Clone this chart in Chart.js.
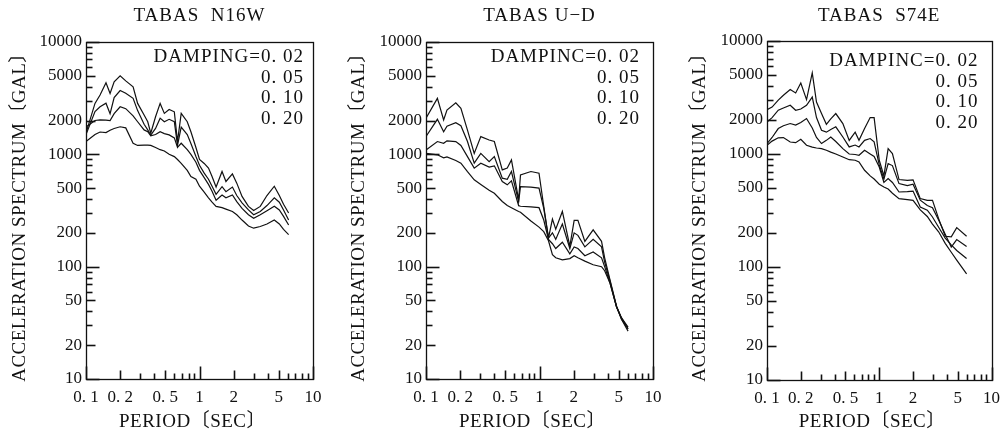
<!DOCTYPE html>
<html>
<head>
<meta charset="utf-8">
<script src="https://cdn.jsdelivr.net/npm/chart.js@4.4.1/dist/chart.umd.min.js"></script>
<style>
  html, body { margin: 0; padding: 0; background: #fff; }
  #wrap { position: relative; width: 1008px; height: 435px; overflow: hidden; }
  #wrap canvas { position: absolute; top: 0; }
</style>
</head>
<body>
<div id="wrap">
  <canvas id="c1" width="336" height="435" style="left:0"></canvas>
  <canvas id="c2" width="336" height="435" style="left:336px"></canvas>
  <canvas id="c3" width="336" height="435" style="left:672px"></canvas>
</div>
<script>
// axis ticks
const xTickValues = [0.1, 0.2, 0.5, 1, 2, 5, 10];
const xTickLabels = ['0. 1', '0. 2', '0. 5', '1', '2', '5', '10'];
const yTickValues = [10, 20, 50, 100, 200, 500, 1000, 2000, 5000, 10000];
const yTickLabels = ['10', '20', '50', '100', '200', '500', '1000', '2000', '5000', '10000'];
const dampingLabels = ['0. 02', '0. 05', '0. 10', '0. 20'];

// TABAS N16W
const periodN16W = [0.1, 0.12, 0.133, 0.15, 0.163, 0.177, 0.2, 0.224, 0.26, 0.285,
  0.325, 0.35, 0.372, 0.41, 0.45, 0.49, 0.54, 0.6, 0.64, 0.69,
  0.78, 0.84, 0.93, 1.0, 1.1, 1.2, 1.29, 1.4, 1.58, 1.71,
  1.95, 2.13, 2.37, 2.7, 3.0, 3.43, 3.93, 4.56, 5.05, 5.5, 6.1];
const n16wD002 = [1550, 2840, 3370, 4330, 3480, 4420, 5000, 4510, 3990, 2840,
  2240, 1950, 1540, 2160, 2840, 2315, 2510, 2390, 1300, 2315,
  1950, 1590, 1150, 900, 830, 754, 634, 511, 703, 573,
  670, 554, 422, 344, 316, 344, 430, 520, 430, 360, 300];
const n16wD005 = [1500, 2400, 2650, 2850, 2300, 3200, 3700, 3500, 3150, 2450,
  1850, 1650, 1480, 1700, 2100, 1950, 2050, 1950, 1200, 1750,
  1500, 1250, 955, 800, 680, 600, 520, 440, 515, 465,
  511, 430, 370, 320, 290, 310, 350, 410, 375, 320, 260];
const n16wD010 = [1750, 2000, 2030, 2020, 2000, 2300, 2650, 2550, 2200, 1950,
  1650, 1590, 1460, 1500, 1590, 1530, 1490, 1400, 1155, 1255,
  1100, 1000, 850, 720, 620, 540, 470, 390, 435, 410,
  435, 380, 330, 290, 270, 290, 315, 345, 320, 280, 235];
const n16wD020 = [1300, 1500, 1580, 1560, 1640, 1700, 1760, 1720, 1255, 1200,
  1210, 1210, 1200, 1150, 1100, 1070, 1000, 955, 900, 830,
  720, 634, 600, 520, 460, 410, 375, 344, 335, 325,
  310, 290, 260, 230, 220, 228, 240, 260, 240, 215, 193];

// TABAS U-D
const periodUD = [0.1, 0.126, 0.143, 0.153, 0.183, 0.203, 0.232, 0.266, 0.304, 0.36,
  0.4, 0.47, 0.52, 0.566, 0.655, 0.68, 0.84, 0.99, 1.09, 1.2,
  1.3, 1.39, 1.59, 1.85, 2.02, 2.18, 2.51, 2.97, 3.52, 3.75,
  4.17, 4.77, 5.28, 6.03];
const udD002 = [2100, 3150, 2020, 2480, 2875, 2570, 1640, 1020, 1437, 1340,
  1300, 727, 754, 892, 394, 656, 703, 680, 344, 180,
  265, 216, 310, 152, 258, 258, 168, 213, 168, 120,
  77, 44.6, 34, 26.7];
const udD005 = [1440, 2050, 1590, 1780, 1910, 1800, 1300, 834, 1020, 861,
  955, 614, 600, 703, 380, 515, 510, 500, 330, 180,
  200, 175, 240, 145, 200, 190, 150, 175, 150, 110,
  75, 44, 35, 28];
const udD010 = [1094, 1300, 1255, 1320, 1300, 1200, 955, 754, 834, 770,
  790, 573, 535, 580, 349, 345, 340, 335, 260, 175,
  160, 145, 165, 130, 150, 145, 125, 135, 120, 100,
  72, 44, 35, 29];
const udD020 = [1020, 990, 930, 950, 880, 834, 700, 593, 540, 480,
  450, 380, 350, 335, 310, 305, 255, 225, 205, 170,
  128, 120, 115, 118, 125, 120, 112, 104, 100, 92,
  72, 44, 34, 28];

// TABAS S74E
const periodS74E = [0.1, 0.111, 0.126, 0.14, 0.161, 0.18, 0.2, 0.225, 0.253, 0.276,
  0.306, 0.338, 0.37, 0.41, 0.474, 0.54, 0.61, 0.66, 0.74, 0.83,
  0.9, 1.0, 1.1, 1.2, 1.31, 1.5, 1.78, 2.0, 2.32, 2.68,
  2.98, 3.38, 3.87, 4.38, 4.9, 6.0];
const s74eD002 = [2470, 2600, 3000, 3310, 3715, 3470, 4250, 3030, 5210, 2880,
  2280, 1830, 2050, 2280, 1860, 1320, 1560, 1320, 1680, 2100,
  2100, 880, 640, 1116, 1009, 594, 585, 590, 403, 389,
  389, 268, 187, 185, 223, 187];
const s74eD005 = [1920, 2100, 2440, 2550, 2700, 2440, 2500, 2700, 3190, 2100,
  1620, 1560, 1650, 1740, 1415, 1155, 1200, 1155, 1320, 1370,
  1280, 800, 600, 822, 790, 547, 525, 540, 390, 350,
  335, 260, 195, 150, 175, 152];
const s74eD010 = [1237, 1400, 1680, 1780, 1860, 1800, 1900, 2060, 1700, 1400,
  1237, 1320, 1415, 1290, 1116, 1000, 990, 974, 1078, 1000,
  950, 767, 560, 606, 560, 461, 465, 470, 340, 318,
  277, 225, 180, 157, 140, 119];
const s74eD020 = [1195, 1300, 1390, 1397, 1277, 1260, 1350, 1195, 1150, 1130,
  1116, 1080, 1040, 1000, 940, 890, 880, 850, 718, 640,
  600, 540, 510, 490, 450, 403, 395, 389, 320, 280,
  240, 205, 162, 135, 115, 87];

const FONT = '"Liberation Serif", "Noto Sans CJK JP", serif';
const INK = '#111';

// tick marks inside the frame, 1-9 per decade
function decadeTicks(lo, hi) {
  const out = [];
  for (let d = lo; d < hi * 0.999; d *= 10) {
    for (let m = 1; m <= 9; m++) out.push({ v: m * d, m: m });
  }
  out.push({ v: hi, m: 1 });
  return out;
}
function tickLen(m) {
  if (m === 1) return 13;
  if (m === 2 || m === 5) return 9;
  return 6;
}

const framePlugin = {
  id: 'frame',
  afterDatasetsDraw(chart, args, opts) {
    const ctx = chart.ctx;
    const a = chart.chartArea;
    const xs = chart.scales.x, ys = chart.scales.y;
    const L = Math.round(a.left) + 0.5, B = Math.round(a.bottom) + 0.5;
    ctx.save();
    ctx.strokeStyle = INK;
    ctx.lineWidth = 1.3;
    ctx.strokeRect(L, Math.round(a.top) + 0.5, Math.round(a.right - a.left), Math.round(a.bottom - a.top));
    ctx.lineWidth = 1.6;
    decadeTicks(10, 10000).forEach(t => {
      const py = Math.round(ys.getPixelForValue(t.v)) + 0.5;
      ctx.beginPath();
      ctx.moveTo(L, py);
      ctx.lineTo(L + tickLen(t.m), py);
      ctx.stroke();
    });
    decadeTicks(0.1, 10).forEach(t => {
      const px = Math.round(xs.getPixelForValue(t.v)) + 0.5;
      ctx.beginPath();
      ctx.moveTo(px, B);
      ctx.lineTo(px, B - tickLen(t.m));
      ctx.stroke();
    });

    // title, damping legend, axis titles
    ctx.fillStyle = INK;
    ctx.textBaseline = 'middle';
    ctx.font = '19px ' + FONT;
    const cx = (a.left + a.right) / 2;
    const cy = (a.top + a.bottom) / 2;
    ctx.letterSpacing = '1px';
    ctx.textAlign = 'center';
    ctx.fillText(opts.title, cx, 16);
    ctx.textAlign = 'right';
    dampingLabels.forEach((lab, i) => {
      const txt = i === 0 ? opts.head + lab : lab;
      ctx.fillText(txt, a.right - opts.inset, a.top + opts.legendTop + i * 20.7);
    });
    ctx.letterSpacing = '0.5px';
    ctx.textAlign = 'center';
    ctx.fillText('PERIOD〔SEC〕', cx - 7, 422);
    ctx.translate(opts.yTitle, cy + 2);
    ctx.rotate(-Math.PI / 2);
    ctx.fillText('ACCELERATION SPECTRUM〔GAL〕', 0, 0);
    ctx.restore();
  }
};

function makeChart(id, title, head, periods, series, lay) {
  const datasets = series.map(vals => ({
    data: periods.map((p, i) => ({ x: p, y: vals[i] })),
    borderColor: INK,
    borderWidth: 1.2,
    pointRadius: 0,
    tension: 0,
    fill: false
  }));
  return new Chart(document.getElementById(id), {
    type: 'line',
    data: { datasets },
    plugins: [framePlugin],
    options: {
      responsive: false,
      animation: false,
      events: [],
      layout: { padding: { left: 4, right: lay.right, top: lay.top, bottom: 0 } },
      plugins: {
        legend: { display: false },
        tooltip: { enabled: false },
        frame: { title, head, inset: lay.inset, legendTop: lay.legendTop, yTitle: lay.yTitle }
      },
      scales: {
        x: {
          type: 'logarithmic',
          min: 0.1,
          max: 10,
          grid: { display: false, drawTicks: false },
          border: { display: false },
          afterBuildTicks: s => { s.ticks = xTickValues.map(v => ({ value: v })); },
          afterFit: s => { s.height = 435 - lay.bottom; },
          ticks: {
            autoSkip: false,
            maxRotation: 0,
            padding: 8,
            color: INK,
            font: { family: FONT, size: 17 },
            callback: (v) => xTickLabels[xTickValues.indexOf(v)]
          }
        },
        y: {
          type: 'logarithmic',
          min: 10,
          max: 10000,
          grid: { display: false, drawTicks: false },
          border: { display: false },
          afterBuildTicks: s => { s.ticks = yTickValues.map(v => ({ value: v })); },
          afterFit: s => { s.width = lay.left - 4; },
          ticks: {
            padding: 4,
            color: INK,
            font: { family: FONT, size: 17 },
            callback: (v) => yTickLabels[yTickValues.indexOf(v)]
          }
        }
      }
    }
  });
}

makeChart('c1', 'TABAS  N16W', 'DAMPING=', periodN16W,
  [n16wD002, n16wD005, n16wD010, n16wD020],
  { left: 86, right: 23, top: 42, bottom: 379, yTitle: 20, inset: 9, legendTop: 15 });
makeChart('c2', 'TABAS U−D', 'DAMPINC=', periodUD,
  [udD002, udD005, udD010, udD020],
  { left: 90, right: 19, top: 42, bottom: 379, yTitle: 23, inset: 13, legendTop: 15 });
makeChart('c3', 'TABAS  S74E', 'DAMPINC=', periodS74E,
  [s74eD002, s74eD005, s74eD010, s74eD020],
  { left: 95, right: 15, top: 41, bottom: 380, yTitle: 28, inset: 13, legendTop: 20 });
</script>
</body>
</html>
